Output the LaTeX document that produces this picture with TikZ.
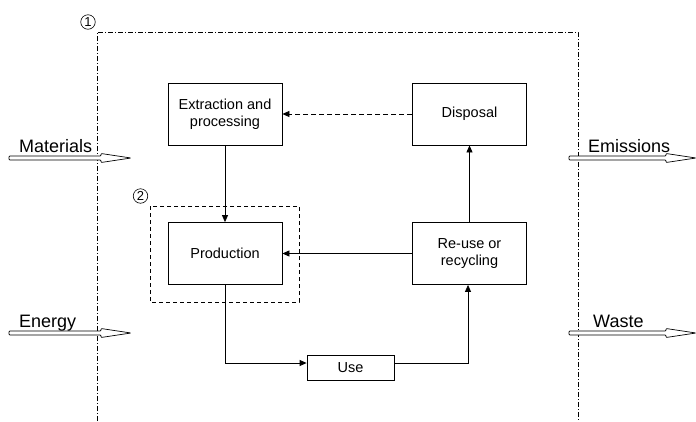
\documentclass[tikz,border=0pt]{standalone}
\usepackage{fontspec}
\setmainfont{Liberation Sans}
\usetikzlibrary{arrows.meta,calc}
\begin{document}
\begin{tikzpicture}[x=1pt,y=-1pt,
  box/.style={draw, line width=0.8pt, minimum width=114pt, minimum height=62pt, align=center, inner sep=0pt, font=\fontsize{14.5}{17}\selectfont},
  arr/.style={line width=0.8pt, -{Triangle[length=7pt,width=6pt]}},
  bound/.style={line width=0.7pt, dash pattern=on 5pt off 2pt on 1pt off 2pt},
  lbl/.style={anchor=base west, inner sep=0pt, font=\fontsize{18}{20}\selectfont},
  num/.style={draw, circle, line width=0.6pt, minimum size=14.5pt, inner sep=0pt, font=\fontsize{13}{13}\selectfont},
  hollow/.style={line width=0.7pt, fill=white, rounded corners=0.8pt}]
\useasboundingbox (0,0) rectangle (696,421);
% system boundary
\coordinate (bl) at (97,421);
\coordinate (tl) at (97,32);
\coordinate (tr) at (578,32);
\coordinate (br) at (578,421);
\draw[bound] (bl) -- (tl) -- (tr) -- (br);
\node[num] (n1) at (88,22) {1};
% sub-boundary
\draw[line width=0.7pt, dash pattern=on 4pt off 3pt] (150,206) rectangle (299,302);
\node[num] (n2) at (140.5,196) {2};
% boxes
\node[box] (extr) at (225,114) {Extraction and\\processing};
\node[box] (disp) at (469.5,114) {Disposal};
\node[box] (prod) at (225,253.5) {Production};
\node[box] (reuse) at (469.5,253.5) {Re-use or\\recycling};
\node[box, minimum width=87pt, minimum height=25pt] (use) at (350.5,367.5) {Use};
% connectors
\draw[arr] (extr) -- (prod);
\draw[arr, dash pattern=on 5pt off 3pt] (disp) -- (extr);
\draw[arr] (reuse) -- (prod);
\draw[arr] (reuse) -- (disp);
\coordinate (usein) at ($(use.west)+(0,-4.5)$);
\coordinate (useout) at ($(use.east)+(0,-4.5)$);
\draw[arr] (prod.south) |- (usein);
\draw[arr] (useout) -| ($(reuse.south)+(-1.5,0)$);
% flow arrows
\newcommand\flowarrow[3]{%
  \draw[hollow] (#1,#3-2) -- (#2-30,#3-2) -- (#2-30,#3-4.5) -- (#2,#3) -- (#2-30,#3+4.5) -- (#2-30,#3+2) -- (#1,#3+2) -- cycle;}
\flowarrow{9}{131}{158}
\flowarrow{9}{131}{333}
\flowarrow{569}{696}{158}
\flowarrow{569}{696}{333}
\node[lbl] (mat) at (19,152) {Materials};
\node[lbl] (ene) at (19,327) {Energy};
\node[lbl] (emi) at (588,152) {Emissions};
\node[lbl] (was) at (593,327) {Waste};
\end{tikzpicture}
\end{document}
